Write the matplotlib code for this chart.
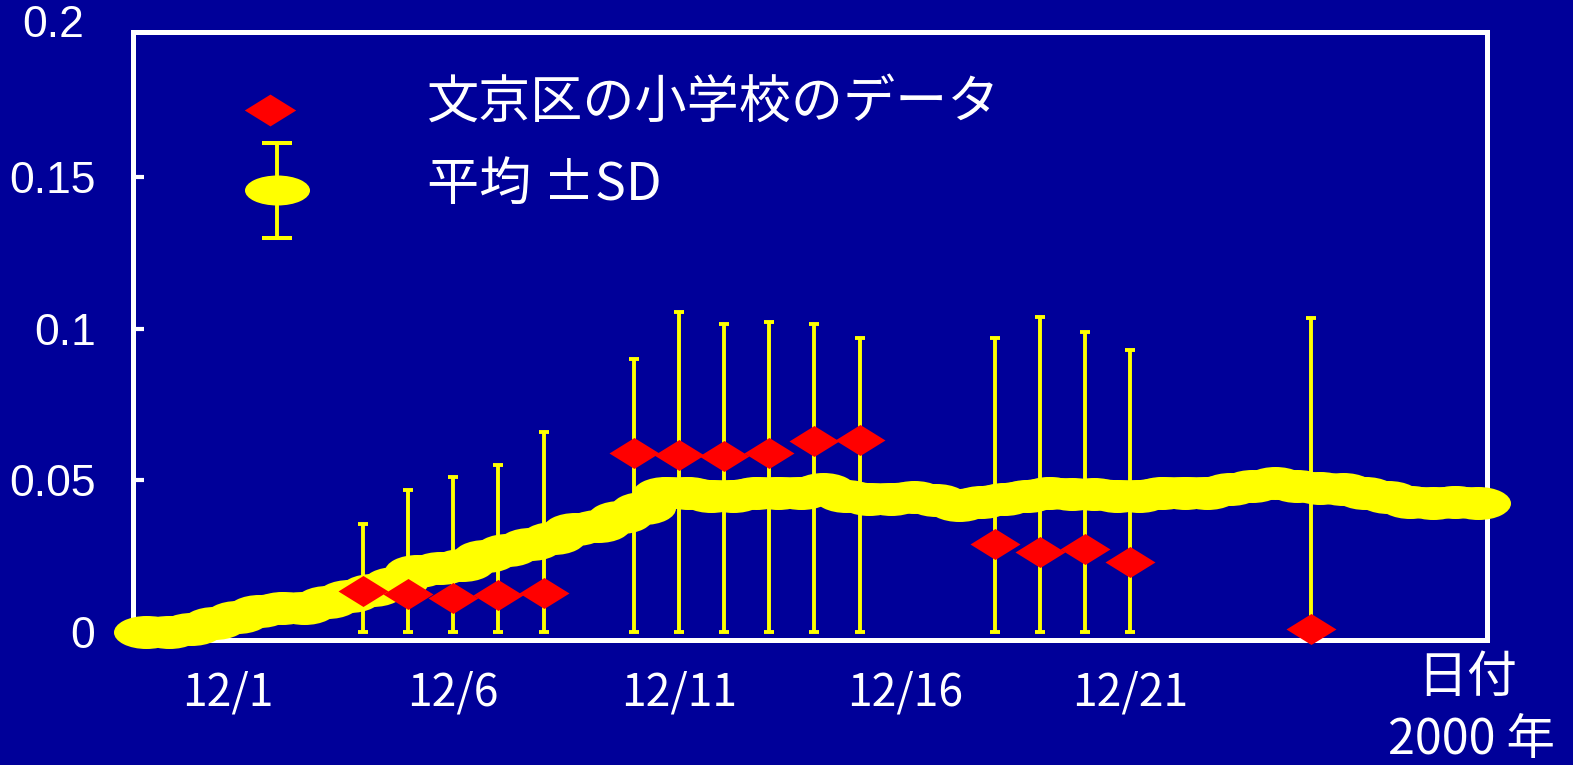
import numpy as np
import matplotlib
matplotlib.use("Agg")
import matplotlib.pyplot as plt
from matplotlib.path import Path
from matplotlib.transforms import Affine2D

plt.rcParams['font.family'] = ['Noto Sans CJK JP', 'DejaVu Sans']

# ---- data (x = day of December 2000) ----
school_days = [4, 5, 6, 7, 8, 10, 11, 12, 13, 14, 15, 18, 19, 20, 21, 25]
school_vals = [0.0135, 0.0125, 0.0112, 0.0122, 0.0129,
               0.0590, 0.0584, 0.0580, 0.0590, 0.0630, 0.0633,
               0.0290, 0.0265, 0.0275, 0.0230, 0.0010]
sd_upper = [0.0356, 0.0468, 0.0510, 0.0550, 0.0660,
            0.0900, 0.1055, 0.1016, 0.1022, 0.1016, 0.0970,
            0.0970, 0.1040, 0.0990, 0.0930, 0.1035]

mean_days = np.arange(-0.8, 28.75, 0.5)
mean_vals = [0.000, 0.000, 0.001, 0.003, 0.005, 0.007, 0.008, 0.008, 0.010, 0.012,
             0.014, 0.016, 0.020, 0.021, 0.022, 0.025, 0.027, 0.029, 0.031, 0.034,
             0.035, 0.038, 0.041, 0.046, 0.046, 0.045, 0.045, 0.046, 0.046, 0.046,
             0.047, 0.045, 0.044, 0.044, 0.0445, 0.0435, 0.042, 0.043, 0.044, 0.045,
             0.046, 0.0455, 0.0455, 0.045, 0.045, 0.046, 0.046, 0.046, 0.047, 0.048,
             0.049, 0.048, 0.0475, 0.047, 0.046, 0.0445, 0.043, 0.0425, 0.043, 0.0425]

tick_days = [1, 6, 11, 16, 21]
tick_labels = ['12/1', '12/6', '12/11', '12/16', '12/21']
y_ticks = [0, 0.05, 0.1, 0.15]
y_tick_labels = ['0', '0.05', '0.1', '0.15']
y_top_label = '0.2'

legend_school = '文京区の小学校のデータ'
legend_mean = '平均 ±SD'

BG = '#000099'
YELLOW = '#FFFF00'
RED = '#FF0000'
WHITE = '#FFFFFF'

# custom marker shapes
ellipse = Path.unit_circle().transformed(Affine2D().scale(1.0, 30 / 65))
ellipse_band = Path.unit_circle().transformed(Affine2D().scale(1.0, 33 / 65))
diamond = Path([(-1, 0), (0, 0.62), (1, 0), (0, -0.62), (-1, 0)],
               [Path.MOVETO, Path.LINETO, Path.LINETO, Path.LINETO, Path.CLOSEPOLY])

W, H = 1573, 765
fig = plt.figure(figsize=(W / 100, H / 100), dpi=100)
fig.patch.set_facecolor(BG)
ax = fig.add_axes([133 / W, 1 - 640 / H, 1354 / W, 608 / H])
ax.set_facecolor(BG)
ax.set_xlim(-1.095, 28.90)
ax.set_ylim(-0.00264, 0.19786)

for s in ax.spines.values():
    s.set_color(WHITE)
    s.set_linewidth(3.6)

# mean curve
ax.plot(mean_days, mean_vals, color=YELLOW, lw=22, solid_capstyle='round',
        solid_joinstyle='round', marker=ellipse_band, ms=46.8, mec='none',
        mfc=YELLOW, clip_on=False, zorder=3)

# mean + SD bars (lower side clipped at zero)
zeros = np.zeros(len(school_days))
ax.errorbar(school_days, zeros, yerr=[zeros, sd_upper], fmt='none',
            ecolor=YELLOW, elinewidth=2.8, capsize=3.8, capthick=2.8,
            clip_on=False, zorder=4)

# school data
ax.plot(school_days, school_vals, ls='none', marker=diamond, ms=36,
        mfc=RED, mec='none', clip_on=False, zorder=5)

# axes ticks
ax.set_xticks(tick_days)
ax.set_xticklabels(tick_labels, fontsize=32, color=WHITE)
ax.tick_params(axis='x', length=0, pad=21)
ax.set_yticks(y_ticks)
ax.set_yticklabels(y_tick_labels, fontsize=32, color=WHITE,
                   fontfamily=['Liberation Sans', 'DejaVu Sans'])
ax.tick_params(axis='y', direction='in', length=8, width=3, color=WHITE, pad=27)
ax.text(-0.036, 0.2, y_top_label, transform=ax.get_yaxis_transform(),
        ha='right', va='center', fontsize=32, color=WHITE,
        fontfamily=['Liberation Sans', 'DejaVu Sans'], clip_on=False)

# legend
tA = ax.transAxes
ax.plot([0.1012], [0.8717], transform=tA, ls='none', marker=diamond, ms=37,
        mfc=RED, mec='none', clip_on=False, zorder=6)
ax.plot([0.1064, 0.1064], [0.661, 0.8174], transform=tA, color=YELLOW, lw=2.8,
        clip_on=False, zorder=6)
ax.plot([0.1064, 0.1064], [0.661, 0.8174], transform=tA, ls='none', marker='_',
        ms=22, mew=2.9, color=YELLOW, clip_on=False, zorder=6)
ax.plot([0.1064], [0.740], transform=tA, ls='none', marker=ellipse, ms=46.8,
        mfc=YELLOW, mec='none', clip_on=False, zorder=7)
ax.text(0.2171, 0.883, legend_school, transform=tA, ha='left', va='center',
        fontsize=37.5, color=WHITE)
ax.text(0.2171, 0.748, legend_mean, transform=tA, ha='left', va='center',
        fontsize=37.5, color=WHITE)

# axis captions
fig.text(1467 / W, 1 - 678 / H, '日付', ha='center', va='center',
         fontsize=36, color=WHITE)
fig.text(1472 / W, 1 - 740 / H, '2000 年', ha='center', va='center',
         fontsize=35, color=WHITE)

fig.savefig('out.png', dpi=100, facecolor=BG)
